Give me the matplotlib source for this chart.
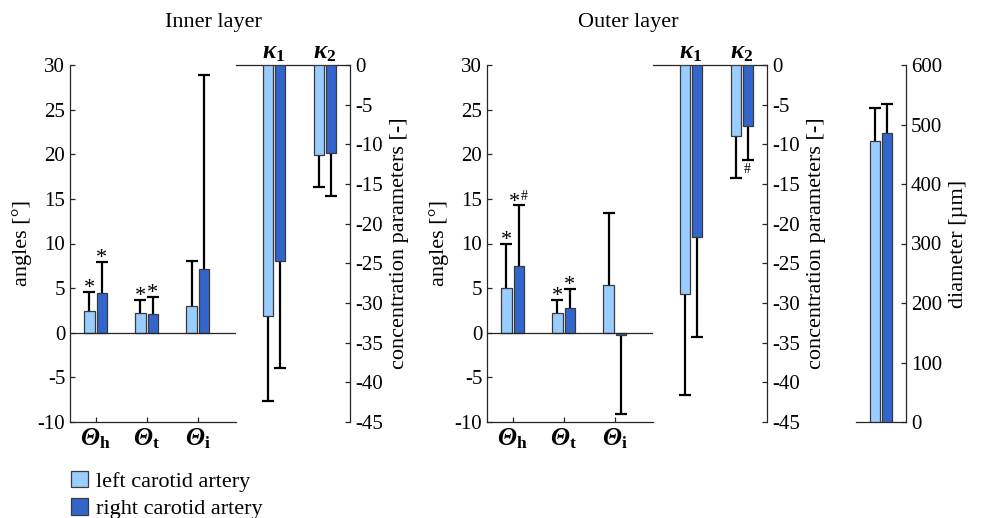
import numpy as np
import matplotlib
matplotlib.use("Agg")
import matplotlib.pyplot as plt
from matplotlib.patches import Patch

plt.rcParams['font.family'] = ['Liberation Serif', 'DejaVu Serif']
plt.rcParams['mathtext.fontset'] = 'custom'
plt.rcParams['mathtext.rm'] = 'Liberation Serif'
plt.rcParams['mathtext.it'] = 'Liberation Serif:italic'
plt.rcParams['mathtext.bf'] = 'Liberation Serif:bold'
plt.rcParams['mathtext.bfit'] = 'Liberation Serif:italic:bold'
plt.rcParams['axes.unicode_minus'] = False

# mean values and standard deviations (left / right carotid artery)
angle_labels = [r'$\mathbfit{\Theta}_{\mathbf{h}}$', r'$\mathbfit{\Theta}_{\mathbf{t}}$',
                r'$\mathbfit{\Theta}_{\mathbf{i}}$']
kappa_labels = [r'$\mathbfit{\kappa}_{\mathbf{1}}$', r'$\mathbfit{\kappa}_{\mathbf{2}}$']

inner_ang_left = np.array([2.4, 2.25, 3.05])
inner_ang_left_sd = np.array([2.2, 1.45, 4.95])
inner_ang_right = np.array([4.4, 2.1, 7.1])
inner_ang_right_sd = np.array([3.55, 1.95, 21.8])

outer_ang_left = np.array([5.0, 2.2, 5.35])
outer_ang_left_sd = np.array([5.0, 1.5, 8.1])
outer_ang_right = np.array([7.5, 2.8, -0.2])
outer_ang_right_sd = np.array([6.8, 2.1, 8.85])

inner_kap_left = np.array([-31.7, -11.4])
inner_kap_left_sd = np.array([10.7, 4.0])
inner_kap_right = np.array([-24.7, -11.1])
inner_kap_right_sd = np.array([13.5, 5.4])

outer_kap_left = np.array([-28.9, -9.0])
outer_kap_left_sd = np.array([12.7, 5.3])
outer_kap_right = np.array([-21.65, -7.7])
outer_kap_right_sd = np.array([12.6, 4.3])

diam_left = np.array([472.0])
diam_left_sd = np.array([55.0])
diam_right = np.array([486.0])
diam_right_sd = np.array([49.0])

# significance marks: (bar index, side) per panel
inner_stars = [(0, 'L'), (0, 'R'), (1, 'L'), (1, 'R')]
outer_stars = [(0, 'L'), (0, 'R'), (1, 'L'), (1, 'R')]

c_left = '#99ccff'
c_right = '#3366cc'
edge = '#3a3a3a'
axcol = '#262626'
bw = 0.2
off = 0.12
tick_fs = 15
label_fs = 16
sym_fs = 18

fig = plt.figure(figsize=(9.82, 5.18), dpi=100)


def draw_bars(ax, xs, vals, errs, color):
    ax.bar(xs, vals, width=bw, color=color, edgecolor=edge, linewidth=0.9, zorder=3)
    ends = vals + np.sign(vals) * errs
    ax.vlines(xs, vals, ends, color='k', lw=1.6, zorder=2)
    ax.plot(xs, ends, ls='none', marker='_', ms=9, mew=1.6, color='k', zorder=2)
    return ends


def style(ax):
    for s in ax.spines.values():
        s.set_color(axcol)
        s.set_linewidth(0.9)
    ax.tick_params(direction='in', length=3.5, width=0.9, colors=axcol,
                   labelcolor='k', labelsize=tick_fs)


def star(ax, x, y, dx=0):
    ax.annotate('*', xy=(x, y), xytext=(dx, -1), textcoords='offset points',
                ha='center', va='baseline', fontsize=16)


def angle_panel(rect, left, left_sd, right, right_sd):
    ax = fig.add_axes(rect)
    xs = np.arange(1, 4)
    eL = draw_bars(ax, xs - off, left, left_sd, c_left)
    eR = draw_bars(ax, xs + off, right, right_sd, c_right)
    ax.axhline(0, color=axcol, lw=0.9, zorder=4)
    ax.set_xlim(0.5, 3.75)
    ax.set_ylim(-10, 30)
    ax.set_yticks(np.arange(-10, 31, 5))
    ax.set_xticks(xs)
    ax.set_xticklabels(angle_labels)
    ax.spines['top'].set_visible(False)
    ax.spines['right'].set_visible(False)
    style(ax)
    ax.tick_params(axis='x', pad=3, labelsize=sym_fs)
    ax.set_ylabel('angles [°]', fontsize=label_fs, labelpad=4)
    return ax, xs, eL, eR


def kappa_panel(rect, left, left_sd, right, right_sd):
    ax = fig.add_axes(rect)
    xs = np.arange(1, 3)
    eL = draw_bars(ax, xs - off, left, left_sd, c_left)
    eR = draw_bars(ax, xs + off, right, right_sd, c_right)
    ax.set_xlim(0.25, 2.5)
    ax.set_ylim(-45, 0)
    ax.set_yticks(np.arange(-45, 1, 5))
    ax.xaxis.tick_top()
    ax.set_xticks(xs)
    ax.set_xticklabels(kappa_labels)
    ax.yaxis.tick_right()
    ax.yaxis.set_label_position('right')
    ax.spines['left'].set_visible(False)
    ax.spines['bottom'].set_visible(False)
    style(ax)
    ax.tick_params(axis='x', length=0, pad=1, labelsize=sym_fs)
    ax.set_ylabel('concentration parameters [-]', fontsize=label_fs, labelpad=5)
    return ax, xs, eL, eR


bottom, height = 96 / 518, 357 / 518

ax_i, xs_i, eL_i, eR_i = angle_panel([70 / 982, bottom, 166 / 982, height],
                                     inner_ang_left, inner_ang_left_sd,
                                     inner_ang_right, inner_ang_right_sd)
for i, side in inner_stars:
    x = xs_i[i] - off if side == 'L' else xs_i[i] + off
    star(ax_i, x, eL_i[i] if side == 'L' else eR_i[i])

kappa_panel([236 / 982, bottom, 114 / 982, height],
            inner_kap_left, inner_kap_left_sd, inner_kap_right, inner_kap_right_sd)

ax_o, xs_o, eL_o, eR_o = angle_panel([487 / 982, bottom, 166 / 982, height],
                                     outer_ang_left, outer_ang_left_sd,
                                     outer_ang_right, outer_ang_right_sd)
for i, side in outer_stars:
    x = xs_o[i] - off if side == 'L' else xs_o[i] + off
    dx = -3 if (i, side) == (0, 'R') else 0
    star(ax_o, x, eL_o[i] if side == 'L' else eR_o[i], dx)
ax_o.annotate('#', xy=(xs_o[0] + off, eR_o[0]), xytext=(4, 4), textcoords='offset points',
              ha='center', va='baseline', fontsize=10)

ax_ko, xs_k, eL_k, eR_k = kappa_panel([653 / 982, bottom, 114 / 982, height],
                                      outer_kap_left, outer_kap_left_sd,
                                      outer_kap_right, outer_kap_right_sd)
ax_ko.annotate('#', xy=(xs_k[1] + off, eR_k[1]), xytext=(0, -2), textcoords='offset points',
               ha='center', va='top', fontsize=10)

# vessel diameter
ax_d = fig.add_axes([856 / 982, bottom, 50 / 982, height])
draw_bars(ax_d, np.array([1 - off]), diam_left, diam_left_sd, c_left)
draw_bars(ax_d, np.array([1 + off]), diam_right, diam_right_sd, c_right)
ax_d.set_xlim(0.5, 1.5)
ax_d.set_ylim(0, 600)
ax_d.set_yticks(np.arange(0, 601, 100))
ax_d.set_xticks([])
ax_d.yaxis.tick_right()
ax_d.yaxis.set_label_position('right')
ax_d.spines['left'].set_visible(False)
ax_d.spines['top'].set_visible(False)
style(ax_d)
ax_d.set_ylabel('diameter [µm]', fontsize=label_fs, labelpad=5)

fig.text(213 / 982, 1 - 22 / 518, 'Inner layer', ha='center', va='center', fontsize=16)
fig.text(628 / 982, 1 - 22 / 518, 'Outer layer', ha='center', va='center', fontsize=16)

handles = [Patch(facecolor=c_left, edgecolor=edge, lw=0.9),
           Patch(facecolor=c_right, edgecolor=edge, lw=0.9)]
fig.legend(handles, ['left carotid artery', 'right carotid artery'],
           loc='upper left', bbox_to_anchor=(62 / 982, 1 - 462 / 518), frameon=False,
           fontsize=16, handlelength=0.75, handleheight=0.75, handletextpad=0.4,
           labelspacing=0.3, borderaxespad=0)

fig.savefig('out.png', dpi=100)
